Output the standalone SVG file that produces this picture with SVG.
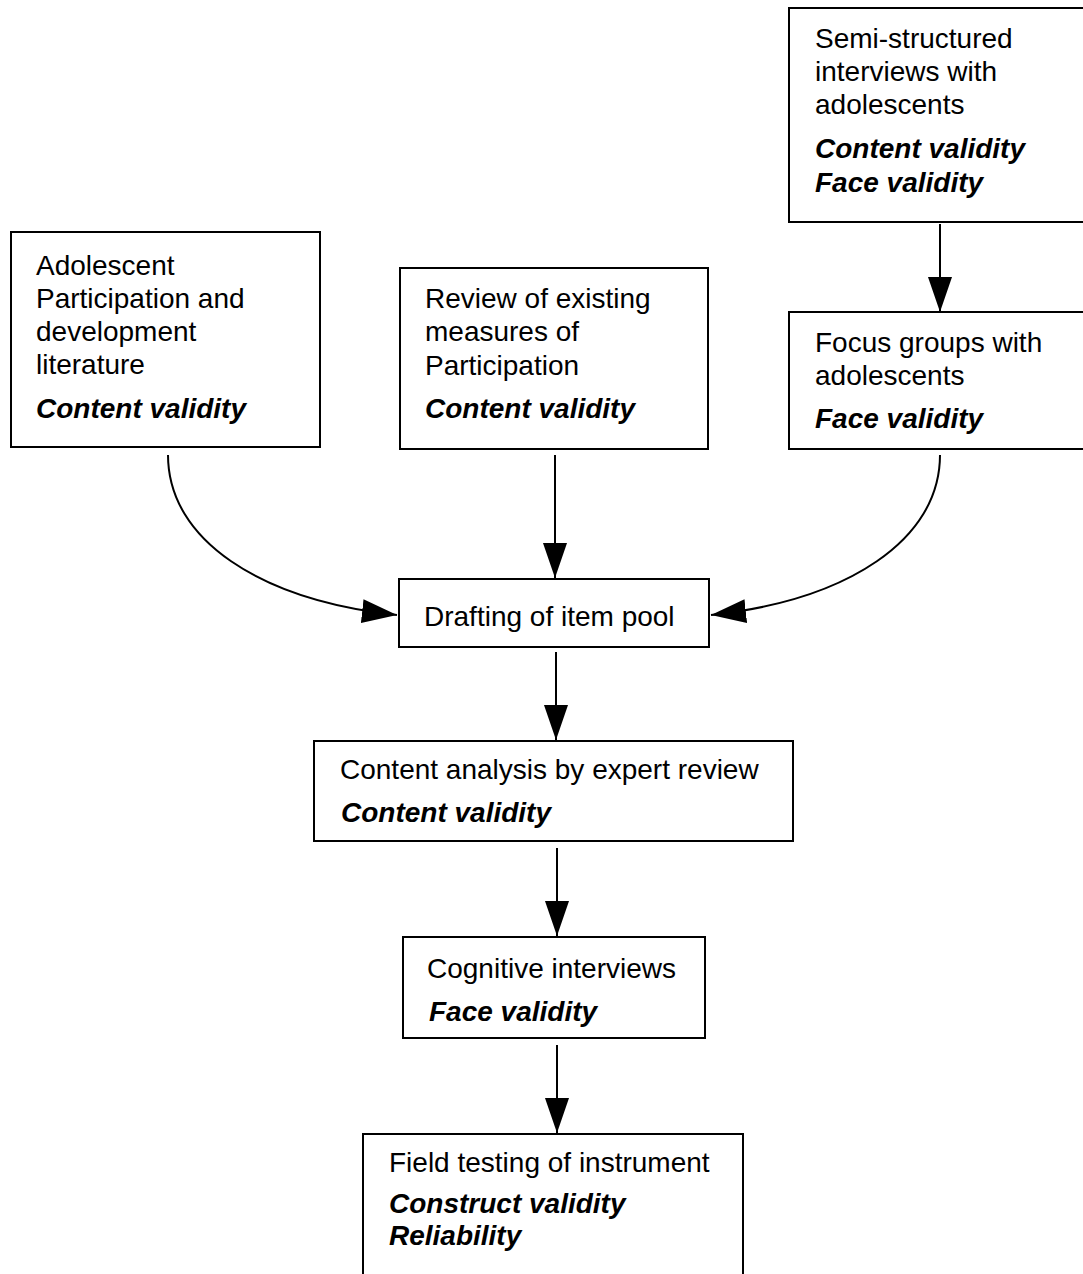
<svg xmlns="http://www.w3.org/2000/svg" width="1083" height="1274" viewBox="0 0 1083 1274">
<style>
.box{fill:#fff;stroke:#000;stroke-width:2}
.t{font-family:"Liberation Sans",Arial,sans-serif;font-size:28px;fill:#000}
.b{font-weight:bold;font-style:italic}
.c{fill:none;stroke:#000;stroke-width:2}
</style>
<defs>
<marker id="ah" markerUnits="userSpaceOnUse" markerWidth="36" markerHeight="26" refX="35" refY="12" orient="auto">
<path d="M0,0 L35,12 L0,24 z" fill="#000"/>
</marker>
</defs>
<rect width="1083" height="1274" fill="#fff"/>
<g id="connectors">
<path class="c" d="M940,224 L940,312" marker-end="url(#ah)"/>
<path class="c" d="M555,455 L555,578" marker-end="url(#ah)"/>
<path class="c" d="M556,652 L556,740" marker-end="url(#ah)"/>
<path class="c" d="M557,848 L557,936" marker-end="url(#ah)"/>
<path class="c" d="M557,1045 L557,1133" marker-end="url(#ah)"/>
<path class="c" d="M168,455 C168,540 260,600 397,615" marker-end="url(#ah)"/>
<path class="c" d="M940,455 C940,540 848,600 711,615" marker-end="url(#ah)"/>
</g>
<g id="semi">
<rect class="box" x="789" y="8" width="300" height="214"/>
<text class="t" x="815" y="48">Semi-structured</text>
<text class="t" x="815" y="81">interviews with</text>
<text class="t" x="815" y="114">adolescents</text>
<text class="t b" x="815" y="158">Content validity</text>
<text class="t b" x="815" y="192">Face validity</text>
</g>
<g id="literature">
<rect class="box" x="11" y="232" width="309" height="215"/>
<text class="t" x="36" y="275">Adolescent</text>
<text class="t" x="36" y="308">Participation and</text>
<text class="t" x="36" y="341">development</text>
<text class="t" x="36" y="374">literature</text>
<text class="t b" x="36" y="418">Content validity</text>
</g>
<g id="review">
<rect class="box" x="400" y="268" width="308" height="181"/>
<text class="t" x="425" y="308">Review of existing</text>
<text class="t" x="425" y="341">measures of</text>
<text class="t" x="425" y="375">Participation</text>
<text class="t b" x="425" y="418">Content validity</text>
</g>
<g id="focus">
<rect class="box" x="789" y="312" width="300" height="137"/>
<text class="t" x="815" y="352">Focus groups with</text>
<text class="t" x="815" y="385">adolescents</text>
<text class="t b" x="815" y="428">Face validity</text>
</g>
<g id="drafting">
<rect class="box" x="399" y="579" width="310" height="68"/>
<text class="t" x="424" y="626">Drafting of item pool</text>
</g>
<g id="content">
<rect class="box" x="314" y="741" width="479" height="100"/>
<text class="t" x="340" y="779">Content analysis by expert review</text>
<text class="t b" x="341" y="822">Content validity</text>
</g>
<g id="cognitive">
<rect class="box" x="403" y="937" width="302" height="101"/>
<text class="t" x="427" y="978">Cognitive interviews</text>
<text class="t b" x="429" y="1021">Face validity</text>
</g>
<g id="field">
<rect class="box" x="363" y="1134" width="380" height="200"/>
<text class="t" x="389" y="1172">Field testing of instrument</text>
<text class="t b" x="389" y="1213">Construct validity</text>
<text class="t b" x="389" y="1245">Reliability</text>
</g>
</svg>
